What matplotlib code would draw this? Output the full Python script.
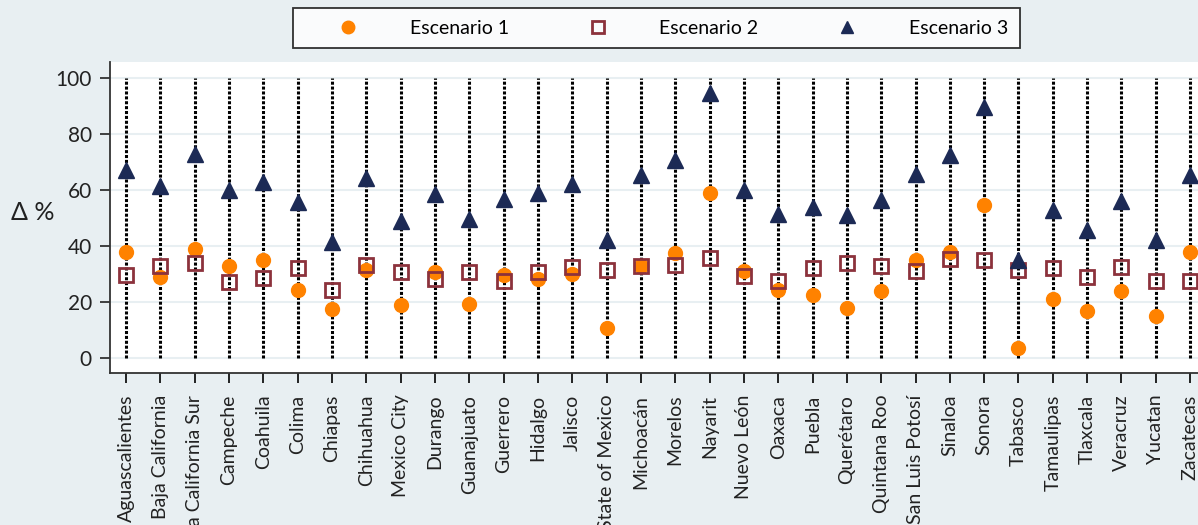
import numpy as np
import matplotlib
matplotlib.use("Agg")
import matplotlib.pyplot as plt

plt.rcParams['font.family'] = ['Lato', 'DejaVu Sans']

states = ["Aguascalientes", "Baja California", "Baja California Sur", "Campeche",
          "Coahuila", "Colima", "Chiapas", "Chihuahua", "Mexico City", "Durango",
          "Guanajuato", "Guerrero", "Hidalgo", "Jalisco", "State of Mexico",
          "Michoacán", "Morelos", "Nayarit", "Nuevo León", "Oaxaca", "Puebla",
          "Querétaro", "Quintana Roo", "San Luis Potosí", "Sinaloa", "Sonora",
          "Tabasco", "Tamaulipas", "Tlaxcala", "Veracruz", "Yucatan", "Zacatecas"]

esc1 = [37.7, 28.7, 39.0, 32.9, 34.8, 24.3, 17.4, 31.2, 18.7, 30.8,
        19.3, 29.4, 28.2, 29.9, 10.6, 32.6, 37.4, 59.0, 31.1, 24.3, 22.3,
        17.7, 24.0, 34.8, 37.6, 54.5, 3.5, 21.1, 16.8, 23.9, 15.1, 37.7]
esc2 = [29.6, 32.6, 33.8, 27.1, 28.4, 31.9, 24.3, 33.2, 30.5, 28.2,
        30.5, 27.6, 30.8, 32.4, 31.4, 32.6, 33.2, 35.8, 29.3, 27.3, 32.0,
        33.8, 32.6, 31.1, 35.4, 35.0, 31.4, 32.0, 29.0, 32.4, 27.5, 27.6]
esc3 = [67.0, 61.2, 72.7, 59.8, 62.9, 55.8, 41.2, 64.2, 48.9, 58.5,
        49.5, 56.7, 58.8, 62.1, 41.9, 65.1, 70.5, 94.5, 60.0, 51.3, 54.0,
        51.1, 56.4, 65.7, 72.5, 89.4, 35.0, 52.9, 45.7, 56.1, 42.1, 65.1]

bg = "#e8eff2"
fig = plt.figure(figsize=(11.98, 5.25), dpi=100, facecolor=bg)
ax = fig.add_axes([110 / 1198, 1 - 372.5 / 525, 1 - 110 / 1198 + 0.002, (372.5 - 61.5) / 525])

x = np.arange(len(states))
ax.vlines(x, 0, 100, colors="black", linestyles=(0, (1, 0.6)), linewidth=2.2, zorder=2)
ax.plot(x, esc1, "o", color="#ff8200", markersize=10, label="Escenario 1", zorder=3)
ax.plot(x, esc2, "s", markerfacecolor="none", markeredgecolor="#8c323c",
        markeredgewidth=2, markersize=10.5, label="Escenario 2", zorder=4)
ax.plot(x, esc3, "^", color="#1c2a55", markersize=12, label="Escenario 3", zorder=5)

ax.set_xlim(-0.467, 31.3)
ax.set_ylim(-5.25, 105.8)
ax.set_yticks([0, 20, 40, 60, 80, 100])
ax.yaxis.grid(True, color="#e8eff2", linewidth=1.5)
ax.set_axisbelow(True)
ax.set_xticks(x)
ax.set_xticklabels(states, rotation=90, fontsize=14, color="#222222")
ax.tick_params(axis="y", labelsize=15, colors="#222222", length=7, width=1.2, pad=6)
ax.tick_params(axis="x", length=7, width=1.2, pad=9)
for side in ["top", "right"]:
    ax.spines[side].set_visible(False)
for side in ["left", "bottom"]:
    ax.spines[side].set_linewidth(1.3)
    ax.spines[side].set_color("#333333")

fig.text(33 / 1198, 1 - 213 / 525, "Δ %", fontsize=18, ha="center", va="center", color="#222222")

leg = fig.legend(loc="upper left", bbox_to_anchor=(293 / 1198, 1 - 8 / 525),
                 ncol=3, fontsize=14, frameon=True, fancybox=False,
                 edgecolor="black", handlelength=4.45, handletextpad=0.96,
                 columnspacing=2.33, borderaxespad=0, borderpad=0.6, numpoints=1)
leg.get_frame().set_linewidth(1.3)
leg.get_frame().set_facecolor("white")
for h in leg.legend_handles:
    h.set_markersize(9)

fig.savefig("out.png", dpi=100, facecolor=bg)
